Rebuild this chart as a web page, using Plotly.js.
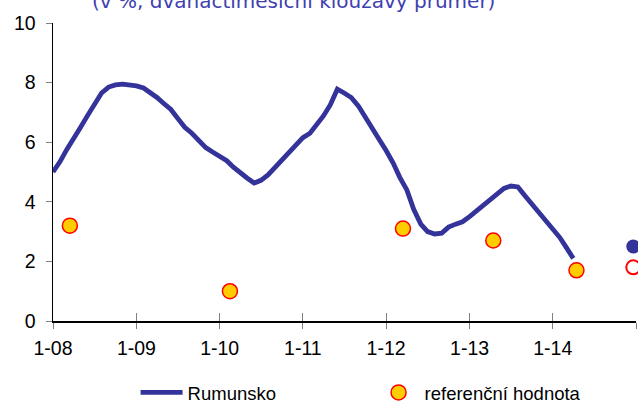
<!DOCTYPE html>
<html>
<head>
<meta charset="utf-8">
<script src="https://cdn.plot.ly/plotly-3.0.1.min.js"></script>
<style>html,body{margin:0;padding:0;background:#fff;}#chart{width:638px;height:405px;}</style>
</head>
<body>
<div id="chart"></div>
<script>
// Monthly dates Jan 2008 .. Apr 2014
const months = [
 '2008-01','2008-02','2008-03','2008-04','2008-05','2008-06','2008-07','2008-08','2008-09','2008-10','2008-11','2008-12',
 '2009-01','2009-02','2009-03','2009-04','2009-05','2009-06','2009-07','2009-08','2009-09','2009-10','2009-11','2009-12',
 '2010-01','2010-02','2010-03','2010-04','2010-05','2010-06','2010-07','2010-08','2010-09','2010-10','2010-11','2010-12',
 '2011-01','2011-02','2011-03','2011-04','2011-05','2011-06','2011-07','2011-08','2011-09','2011-10','2011-11','2011-12',
 '2012-01','2012-02','2012-03','2012-04','2012-05','2012-06','2012-07','2012-08','2012-09','2012-10','2012-11','2012-12',
 '2013-01','2013-02','2013-03','2013-04','2013-05','2013-06','2013-07','2013-08','2013-09','2013-10','2013-11','2013-12',
 '2014-01','2014-02','2014-03','2014-04'
];
const rumunsko = [
 5.0,5.35,5.75,6.1,6.5,6.9,7.25,7.65,7.85,7.92,7.95,7.94,
 7.89,7.82,7.68,7.5,7.3,7.1,6.8,6.5,6.3,6.05,5.82,5.67,
 5.52,5.38,5.17,4.97,4.8,4.63,4.72,4.9,5.15,5.38,5.67,5.93,
 6.15,6.3,6.55,6.88,7.25,7.78,7.65,7.5,7.22,6.87,6.48,6.1,
 5.72,5.3,4.82,4.4,3.75,3.25,3.0,2.92,2.95,3.15,3.25,3.33,
 3.5,3.7,3.85,4.03,4.25,4.45,4.53,4.5,4.2,3.92,3.65,3.4,
 3.12,2.8,2.47,2.1
];
// Reference values
const refDates = ['2008-03-15','2010-02-15','2012-03-15','2013-04-15','2014-04-15'];
const refValues = [3.2,1.0,3.1,2.7,1.7];
// Points at the right edge
const projDate = ['2014-12-20'];
const projRumunsko = [2.5];
const projRef = [1.8];

const tickDates = ['2008-01-01','2009-01-01','2010-01-01','2011-01-01','2012-01-01','2013-01-01','2014-01-01','2015-01-01'];
const tickLabels = ['1-08','1-09','1-10','1-11','1-12','1-13','1-14',''];
const titleText = '(v %, dvanáctiměsíční klouzavý průměr)';

const traces = [
  {x: months, y: rumunsko, type:'scatter', mode:'lines', name:'Rumunsko',
   line:{color:'#333399', width:4.8}, cliponaxis:false},
  {x: refDates, y: refValues, type:'scatter', mode:'markers', name:'referenční hodnota',
   marker:{color:'#FFCC00', size:15, line:{color:'#FF0000', width:1.5}}, cliponaxis:false},
  {x: projDate, y: projRumunsko, type:'scatter', mode:'markers', showlegend:false,
   marker:{color:'#333399', size:14}, cliponaxis:false},
  {x: projDate, y: projRef, type:'scatter', mode:'markers', showlegend:false,
   marker:{color:'#FFFFFF', size:14, line:{color:'#FF0000', width:2}}, cliponaxis:false},
  {x: [], y: [], xaxis:'x2', type:'scatter', mode:'markers', showlegend:false, hoverinfo:'skip'}
];

const font = 'Liberation Sans, Arial, sans-serif';
const layout = {
  width:638, height:405,
  margin:{l:53, r:2, t:23, b:84},
  paper_bgcolor:'#fff', plot_bgcolor:'#fff',
  showlegend:true,
  font:{family:font, color:'#000', size:19},
  xaxis:{type:'date', range:['2008-01-01','2015-01-01'],
    tickvals:tickDates, ticktext:tickLabels,
    ticks:'outside', ticklen:6, tickcolor:'#808080', tickwidth:1,
    showline:true, linecolor:'#000', linewidth:1.5, showgrid:false, zeroline:false,
    tickfont:{family:font, size:19.5, color:'#000'}, ticklabelstandoff:3},
  xaxis2:{type:'date', range:['2008-01-01','2015-01-01'], overlaying:'x', anchor:'y', side:'bottom',
    tickvals:tickDates, showticklabels:false,
    ticks:'inside', ticklen:8, tickcolor:'#808080', tickwidth:1,
    showline:false, showgrid:false, zeroline:false},
  yaxis:{range:[0,10], dtick:2, tick0:0,
    ticks:'outside', ticklen:6, tickcolor:'#808080', tickwidth:1,
    showline:true, linecolor:'#000', linewidth:1.5, showgrid:false, zeroline:false,
    tickfont:{family:font, size:19.5, color:'#000'}, ticklabelstandoff:6},
  legend:{orientation:'h', xref:'container', yref:'container', x:0.2125, y:0.03, xanchor:'left', yanchor:'middle',
    itemwidth:42, entrywidth:180, font:{family:font, size:18.5, color:'#000'}, bgcolor:'rgba(0,0,0,0)'},
  annotations:[{text:titleText, xref:'paper', yref:'paper', x:0.4125, y:1.027, xanchor:'center', yanchor:'bottom',
    showarrow:false, font:{family:'DejaVu Sans', size:20, color:'#4040B0'}}]
};
Plotly.newPlot('chart', traces, layout, {displayModeBar:false, staticPlot:true});
</script>
</body>
</html>
